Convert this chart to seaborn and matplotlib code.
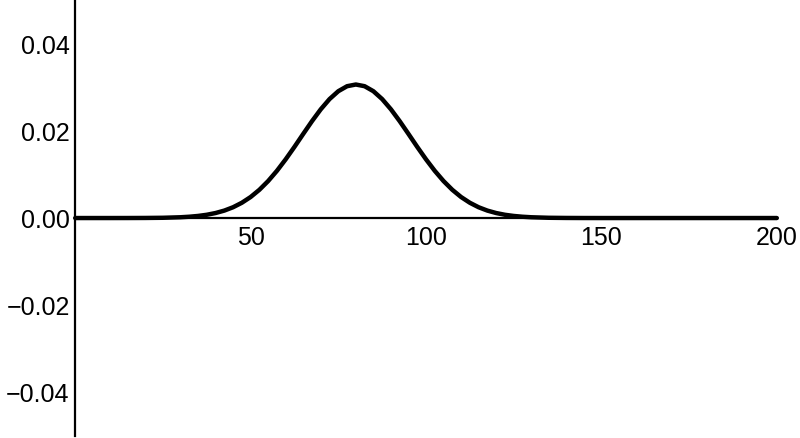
import numpy as np
import pandas as pd
import matplotlib
matplotlib.use("Agg")
import matplotlib.pyplot as plt
import seaborn as sns
from matplotlib.ticker import MultipleLocator, FixedLocator

# values
x_vals = [0, 10, 15, 20, 25,
          30, 32.5, 35, 37.5, 40, 42.5, 45, 47.5, 50, 52.5, 55, 57.5, 60,
          62.5, 65, 67.5, 70, 72.5, 75, 77.5, 80, 82.5, 85, 87.5, 90, 92.5,
          95, 97.5, 100, 102.5, 105, 107.5, 110, 112.5, 115, 117.5, 120,
          122.5, 125, 127.5, 130,
          135, 140, 145, 150, 160, 170, 180, 190, 200]
y_vals = [0.0, 0.0, 0.000005, 0.00002, 0.00006,
          0.00018, 0.00030, 0.00048, 0.00075, 0.00115, 0.00171, 0.00248,
          0.00351, 0.00483, 0.00649, 0.00850, 0.01085, 0.01350, 0.01636,
          0.01934, 0.02227, 0.02500, 0.02735, 0.02916, 0.03031, 0.03070,
          0.03031, 0.02916, 0.02735, 0.02500, 0.02227, 0.01934, 0.01636,
          0.01350, 0.01085, 0.00850, 0.00649, 0.00483, 0.00351, 0.00248,
          0.00171, 0.00115, 0.00075, 0.00048, 0.00030, 0.00018,
          0.00006, 0.00002, 0.000005, 0.0, 0.0, 0.0, 0.0, 0.0, 0.0]

x_ticks = [50, 100, 150, 200]
y_ticks = [-0.04, -0.02, 0.0, 0.02, 0.04]
y_labels = ["\u22120.04", "\u22120.02", "0.00", "0.02", "0.04"]

sns.set_style("white")
plt.rcParams['font.family'] = ['Liberation Sans', 'DejaVu Sans']

df = pd.DataFrame({'x': x_vals, 'y': y_vals})

fig = plt.figure(figsize=(8, 4.38), dpi=100)
ax = fig.add_axes([0.094, 0.0057, 0.877, 0.993])

sns.lineplot(data=df, x='x', y='y', color='black', linewidth=3.2, ax=ax,
             zorder=3, clip_on=False)

ax.set_xlim(0, 200)
ax.set_ylim(-0.05, 0.05)

ax.spines['top'].set_visible(False)
ax.spines['right'].set_visible(False)
ax.spines['bottom'].set_position(('data', 0))
ax.spines['left'].set_position(('data', 0))
for s in ('bottom', 'left'):
    ax.spines[s].set_linewidth(1.6)
    ax.spines[s].set_color('black')

ax.xaxis.set_major_locator(FixedLocator(x_ticks))
ax.xaxis.set_minor_locator(MultipleLocator(10))
ax.set_yticks(y_ticks)
ax.set_yticklabels(y_labels)

ax.tick_params(axis='both', which='major', direction='in', length=4,
               width=1.2, colors='black', labelsize=18)
ax.tick_params(axis='x', which='minor', direction='in', length=2,
               width=0.8, colors='black')
ax.tick_params(axis='x', which='major', pad=6)
ax.tick_params(axis='y', which='major', pad=4)

ax.set_xlabel("")
ax.set_ylabel("")
ax.grid(False)

fig.savefig("out.png", dpi=100)
